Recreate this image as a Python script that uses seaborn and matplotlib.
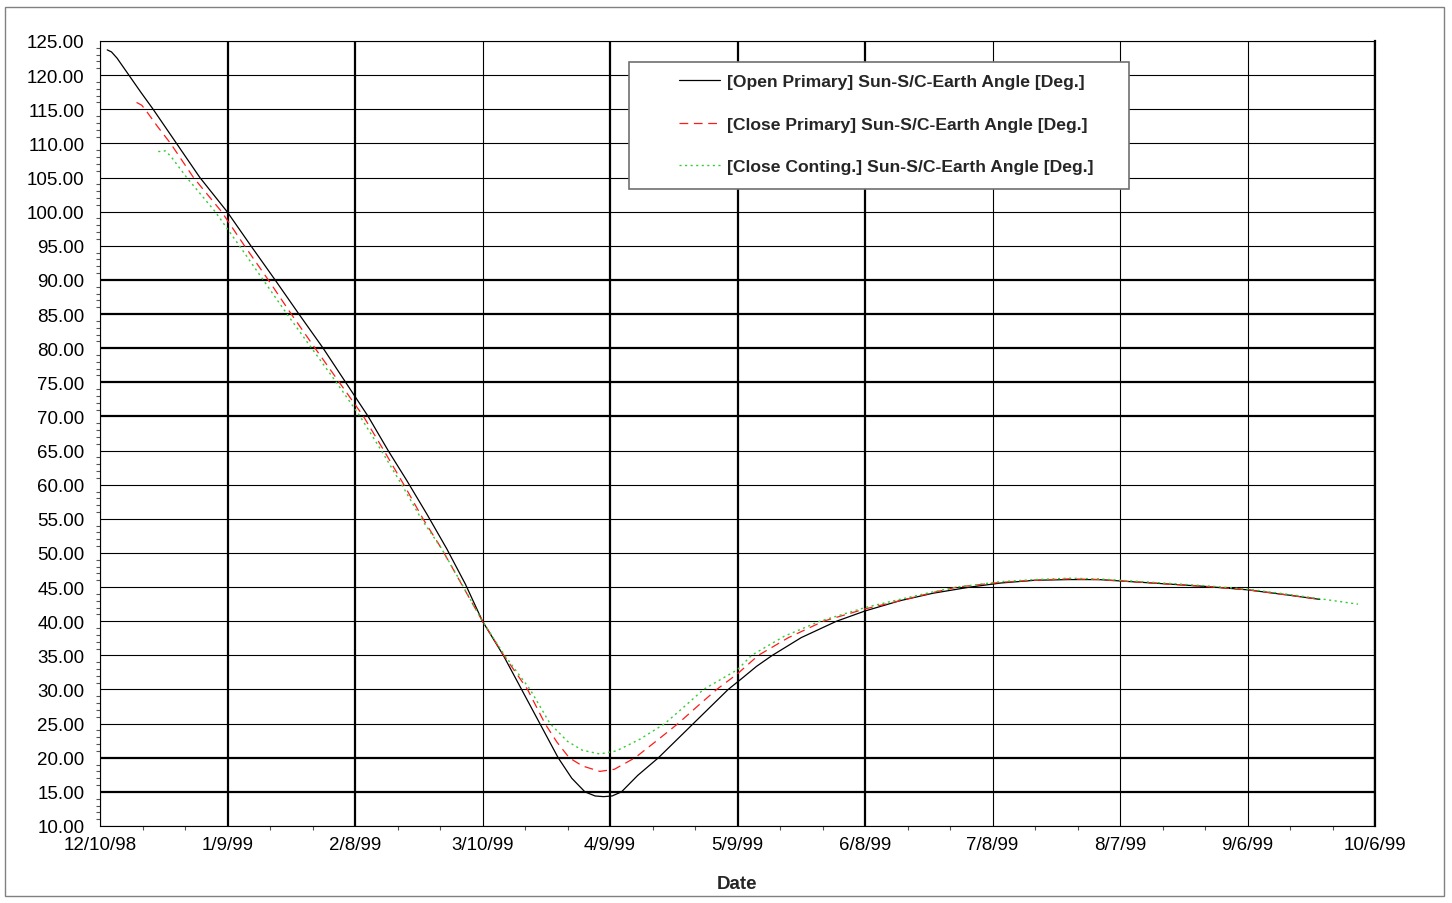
import matplotlib
matplotlib.use("Agg")
import matplotlib.pyplot as plt
import matplotlib.ticker as mticker
from matplotlib.patches import Rectangle
import numpy as np
import pandas as pd
import seaborn as sns

# ---- data: days after 12/10/98 and Sun-S/C-Earth angle in degrees ----
open_days = [1.7, 2.7, 4.0, 6.8, 9.6, 12.5, 18.0, 23.5, 29.9, 35.5, 41.2, 46.8,
             52.5, 57.8, 63.1, 67.8, 72.2, 77.0, 81.6, 86.0, 90.0, 94.9, 99.2,
             103.5, 107.8, 111.0, 114.1, 116.5, 118.5, 120.5, 122.7, 126.5,
             131.4, 135.5, 139.6, 143.7, 147.8, 151.0, 154.5, 158.2, 165.0,
             173.3, 180.0, 188.2, 196.0, 204.7, 212.0, 220.0, 228.0, 235.0,
             240.0, 250.0, 260.0, 270.0, 280.0, 287.0]
open_angle = [123.7, 123.4, 122.5, 120.0, 117.5, 115.0, 110.0, 105.0, 100.0,
              95.0, 90.0, 85.0, 80.0, 75.0, 70.0, 65.0, 60.6, 55.6, 50.6, 45.4,
              40.0, 35.0, 30.0, 25.0, 20.0, 17.0, 15.0, 14.4, 14.3, 14.4, 15.0,
              17.4, 20.0, 22.5, 25.0, 27.5, 30.0, 31.6, 33.4, 35.0, 37.6, 40.0,
              41.5, 43.0, 44.1, 45.0, 45.6, 46.0, 46.1, 46.1, 45.9, 45.5, 45.1,
              44.6, 43.8, 43.2]

close_days = [8.6, 9.8, 10.6, 13.5, 16.6, 22.0, 28.6, 34.0, 39.6, 45.0, 50.6,
              56.3, 62.0, 66.8, 71.5, 76.0, 80.4, 85.0, 90.0, 95.0, 100.6,
              104.7, 107.5, 110.4, 113.5, 117.6, 121.0, 125.9, 131.0, 136.0,
              140.5, 145.1, 150.0, 154.9, 162.0, 170.2, 180.0, 188.2, 196.0,
              201.6, 212.0, 220.0, 228.0, 235.0, 240.0, 250.0, 260.0, 270.0,
              280.0, 287.0]
close_angle = [116.0, 115.6, 115.0, 112.5, 110.0, 105.0, 100.0, 95.0, 90.0,
               85.0, 80.0, 75.0, 70.0, 65.0, 60.0, 55.0, 50.6, 45.5, 40.0, 35.0,
               30.0, 25.0, 22.3, 20.0, 18.8, 18.0, 18.3, 20.0, 22.5, 25.0, 27.5,
               30.0, 32.3, 35.0, 37.6, 40.0, 41.8, 43.0, 44.2, 45.0, 45.7, 46.0,
               46.2, 46.1, 45.9, 45.5, 45.1, 44.6, 43.8, 43.2]

conting_days = [13.7, 15.4, 16.8, 20.4, 27.1, 32.8, 38.4, 44.0, 49.8, 55.6,
                61.2, 66.2, 71.0, 75.6, 80.4, 85.0, 90.0, 95.2, 101.2, 105.9,
                110.0, 113.5, 117.6, 121.5, 127.0, 132.9, 137.5, 142.0, 150.0,
                153.3, 161.0, 169.4, 180.0, 188.2, 196.0, 201.6, 212.0, 220.0,
                228.0, 235.0, 240.0, 250.0, 260.0, 270.0, 280.0, 287.0, 296.0]
conting_angle = [108.8, 108.9, 108.0, 105.0, 100.0, 95.0, 90.0, 85.0, 80.0,
                 75.0, 70.0, 65.0, 60.0, 55.0, 50.6, 45.6, 40.0, 35.0, 30.0,
                 25.0, 22.4, 21.1, 20.55, 21.0, 22.7, 25.0, 27.5, 30.0, 32.9,
                 35.0, 37.8, 40.0, 42.0, 43.2, 44.3, 45.0, 45.8, 46.1, 46.3,
                 46.2, 46.0, 45.6, 45.2, 44.7, 43.9, 43.3, 42.5]

series_labels = ["[Open Primary] Sun-S/C-Earth Angle [Deg.]",
                 "[Close Primary] Sun-S/C-Earth Angle [Deg.]",
                 "[Close Conting.] Sun-S/C-Earth Angle [Deg.]"]

start_date = pd.Timestamp("1998-12-10")
span_days = 300
tick_step_days = 30
minor_step_days = 10
y_min, y_max, y_step = 10, 125, 5
heavy_y_levels = [15, 20, 70, 75, 80, 85, 90]
heavy_x_ticks = [30, 60, 120, 150, 180, 300]

W, H = 1452, 904


def to_dates(days):
    return start_date + pd.to_timedelta(np.asarray(days, dtype=float), unit="D")


sns.set_theme(style="white")
plt.rcParams["font.family"] = ["Liberation Sans", "DejaVu Sans"]

fig = plt.figure(figsize=(W / 100, H / 100), dpi=100)
ax = fig.add_axes([100 / W, 1 - 827 / H, 1275 / W, 785 / H])

styles = [
    dict(color="black", linestyle="-", linewidth=0.9),
    dict(color="#ff1a1a", linestyle=(0, (7, 4.5)), linewidth=0.9),
    dict(color="#33cc33", linestyle=(0, (1.5, 2.5)), linewidth=1.0),
]
for days, angle, label, st in zip([open_days, close_days, conting_days],
                                  [open_angle, close_angle, conting_angle],
                                  series_labels, styles):
    sns.lineplot(x=to_dates(days), y=angle, ax=ax, label=label,
                 errorbar=None, sort=False, **st)

ax.set_xlim(start_date, start_date + pd.Timedelta(days=span_days))
ax.set_ylim(y_min, y_max)

major_x = to_dates(np.arange(0, span_days + 1, tick_step_days))
minor_x = to_dates(np.arange(0, span_days + 1, minor_step_days))
ax.set_xticks(major_x)
ax.set_xticks(minor_x, minor=True)
ax.xaxis.set_major_formatter(mticker.FuncFormatter(
    lambda v, _: (lambda d: f"{d.month}/{d.day}/{d.year % 100:02d}")(
        matplotlib.dates.num2date(v))))
ax.yaxis.set_major_locator(mticker.MultipleLocator(y_step))
ax.yaxis.set_minor_locator(mticker.MultipleLocator(1))
ax.yaxis.set_major_formatter(mticker.FormatStrFormatter("%.2f"))

ax.tick_params(axis="both", which="major", direction="out", length=4,
               width=0.8, color="black", labelsize=13.5, labelcolor="black")
ax.tick_params(axis="y", which="major", length=5, pad=6)
ax.tick_params(axis="x", which="major", pad=3)
ax.tick_params(axis="both", which="minor", direction="out", length=3,
               width=0.8, color="#555555")
ax.tick_params(axis="y", which="minor", left=True)
ax.tick_params(axis="x", which="minor", bottom=True)

# Gridlines: black, some drawn slightly heavier
ax.grid(True, which="major", color="black", linewidth=0.8)
for val, line in zip(ax.get_yticks(), ax.get_ygridlines()):
    line.set_linewidth(1.6 if round(val) in heavy_y_levels else 0.8)
for k, line in enumerate(ax.get_xgridlines()):
    line.set_linewidth(1.6 if k * tick_step_days in heavy_x_ticks else 0.8)
for side, sp in ax.spines.items():
    sp.set_color("black")
    sp.set_linewidth(0.8)
ax.spines["right"].set_linewidth(1.6)

ax.set_xlabel("Date", fontsize=13.5, fontweight="bold", labelpad=16)
ax.set_ylabel("")

# Legend entries without their own frame; the box is drawn separately
leg = ax.legend(loc="upper left", bbox_to_anchor=(679 / W, 1 - 75 / H),
                bbox_transform=fig.transFigure, borderaxespad=0, borderpad=0,
                frameon=False, handlelength=2.35, handletextpad=0.4,
                labelspacing=1.56,
                prop={"family": ["Liberation Sans"], "weight": "bold",
                      "size": 12.6})
leg.set_zorder(6)
legend_box = Rectangle((629 / W, 1 - 190 / H), 500 / W, 127 / H,
                       transform=fig.transFigure, facecolor="white",
                       edgecolor="#707070", linewidth=1.2, zorder=5,
                       clip_on=False)
ax.add_artist(legend_box)

# Outer chart border
fig.patches.append(Rectangle((5 / W, 1 - 897 / H), 1439 / W, 889 / H,
                             transform=fig.transFigure, fill=False,
                             edgecolor="#808080", linewidth=1.0))

fig.savefig("out.png", dpi=100, facecolor="white")
